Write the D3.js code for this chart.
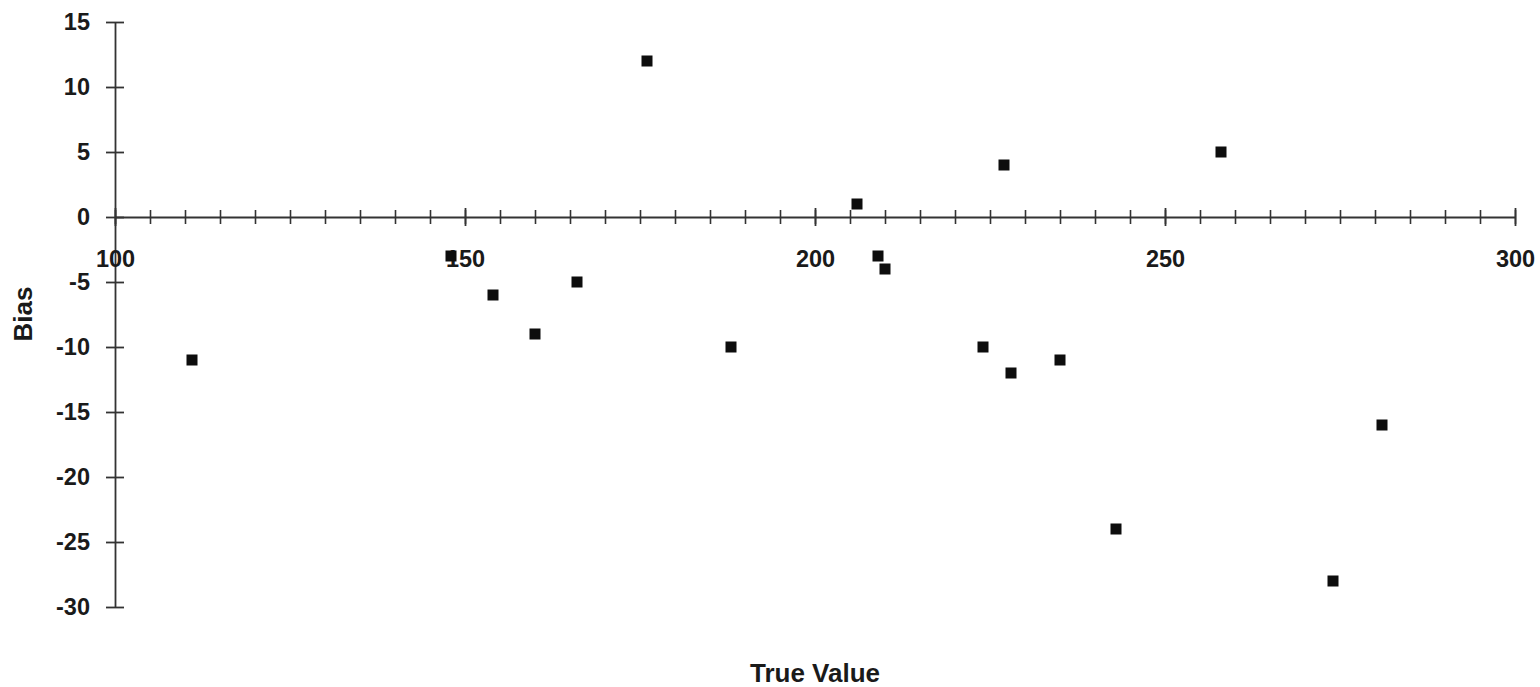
<!DOCTYPE html>
<html>
<head>
<meta charset="utf-8">
<script src="https://cdn.jsdelivr.net/npm/d3@7"></script>
<style>
  html, body { margin: 0; padding: 0; background: #ffffff; }
  svg { display: block; }
  text { font-family: "Liberation Sans", Arial, Helvetica, sans-serif; font-weight: bold; fill: #1a1a1a; }
</style>
</head>
<body>
<svg id="chart" width="1540" height="687"></svg>
<script>
// ---- data ----
const trueValue = [111, 148, 154, 160, 166, 176, 188, 206, 209, 210, 224, 227, 228, 235, 243, 258, 274, 281];
const bias      = [-11, -3, -6, -9, -5, 12, -10, 1, -3, -4, -10, 4, -12, -11, -24, 5, -28, -16];
const xTickLabels = [100, 150, 200, 250, 300];
const xMinorTicks = [100,105,110,115,120,125,130,135,140,145,150,155,160,165,170,175,180,185,190,195,200,
                     205,210,215,220,225,230,235,240,245,250,255,260,265,270,275,280,285,290,295,300];
const yTickLabels = [15, 10, 5, 0, -5, -10, -15, -20, -25, -30];
const xTitle = "True Value";
const yTitle = "Bias";

// ---- layout ----
const svg = d3.select("#chart");
const x = d3.scaleLinear().domain([100, 300]).range([115, 1515]);
const y = d3.scaleLinear().domain([-30, 15]).range([607, 22]);
const axisColor = "#333";
const tickFont = 23.5;
const titleFont = 26;

// y axis at x = 100
const yAxisG = svg.append("g")
  .attr("transform", `translate(${x(100)},0)`)
  .call(d3.axisLeft(y).tickValues(yTickLabels).tickSize(9).tickSizeOuter(0).tickFormat(d3.format("d")));
yAxisG.select(".domain").attr("stroke", axisColor).attr("stroke-width", 1.8);
yAxisG.selectAll(".tick line").attr("x1", 9).attr("x2", -9).attr("stroke", axisColor).attr("stroke-width", 1.8);
yAxisG.selectAll(".tick text").attr("x", -25).attr("font-size", tickFont)
  .attr("font-family", "Liberation Sans, Arial, sans-serif").attr("font-weight", "bold").attr("fill", "#1a1a1a")
  .text(d => d3.format("d")(d).replace("\u2212", "-"));

// x axis at y = 0 : minor ticks
const xMinorG = svg.append("g")
  .attr("transform", `translate(0,${y(0)})`)
  .call(d3.axisBottom(x).tickValues(xMinorTicks).tickSize(7).tickSizeOuter(0).tickFormat(""));
xMinorG.select(".domain").attr("stroke", axisColor).attr("stroke-width", 1.8);
xMinorG.selectAll(".tick line").attr("y1", -7).attr("y2", 7).attr("stroke", axisColor).attr("stroke-width", 1.6);

// x axis major ticks + labels
const xMajorG = svg.append("g")
  .attr("transform", `translate(0,${y(0)})`)
  .call(d3.axisBottom(x).tickValues(xTickLabels).tickSize(9).tickSizeOuter(0).tickFormat(d3.format("d")));
xMajorG.select(".domain").remove();
xMajorG.selectAll(".tick line").attr("y1", -9).attr("y2", 9).attr("stroke", axisColor).attr("stroke-width", 1.8);
xMajorG.selectAll(".tick text").attr("y", 42).attr("dy", "0.35em").attr("font-size", tickFont)
  .attr("font-family", "Liberation Sans, Arial, sans-serif").attr("font-weight", "bold").attr("fill", "#1a1a1a");

// points (squares)
const s = 11;
svg.append("g").selectAll("rect")
  .data(trueValue.map((v, i) => ({ x: v, y: bias[i] })))
  .join("rect")
  .attr("x", d => x(d.x) - s / 2)
  .attr("y", d => y(d.y) - s / 2)
  .attr("width", s)
  .attr("height", s)
  .attr("fill", "#0d0d0d");

// titles
svg.append("text")
  .attr("x", 815).attr("y", 673).attr("dy", "0.35em")
  .attr("text-anchor", "middle").attr("font-size", titleFont)
  .text(xTitle);
svg.append("text")
  .attr("transform", "translate(23,314) rotate(-90)")
  .attr("dy", "0.35em")
  .attr("text-anchor", "middle").attr("font-size", titleFont)
  .text(yTitle);
</script>
</body>
</html>
